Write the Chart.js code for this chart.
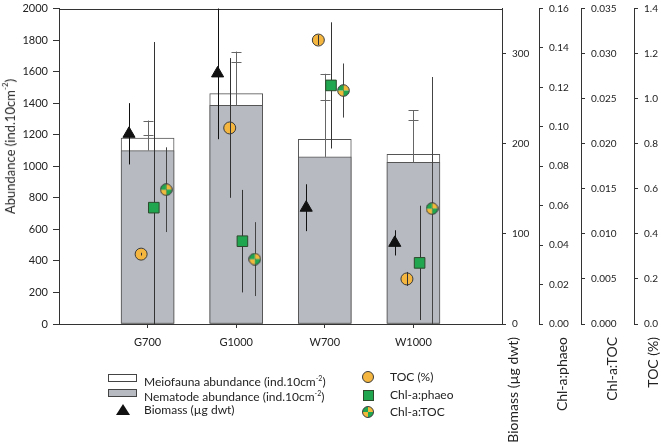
<!DOCTYPE html>
<html>
<head>
<meta charset="utf-8">
<script src="https://cdn.jsdelivr.net/npm/chart.js@4.4.1/dist/chart.umd.min.js"></script>
<style>
html,body{margin:0;padding:0;background:#fff;}
#wrap{position:relative;width:661px;height:445px;font-family:Lato,sans-serif;color:#222;overflow:hidden;}
#c{position:absolute;left:0;top:0;}
.lg{position:absolute;font-size:12px;line-height:14px;white-space:nowrap;}
.ic{position:absolute;box-sizing:border-box;}
.vt{position:absolute;font-size:14px;line-height:16px;writing-mode:vertical-rl;transform:rotate(180deg);white-space:nowrap;}
</style>
</head>
<body>
<div id="wrap">
<canvas id="c" width="661" height="445"></canvas>

<div class="vt" style="left:-2px;top:79px;font-size:13px;line-height:15px;">Abundance (ind.10cm<sup style="font-size:8px;vertical-align:5px;">-2</sup>)</div>

<div class="ic" style="left:108px;top:374px;width:29px;height:8px;border:1px solid #444;background:#fff;"></div>
<div class="lg" style="left:144px;top:371px;">Meiofauna abundance (ind.10cm<sup style="font-size:7px;vertical-align:5px;">-2</sup>)</div>
<div class="ic" style="left:108px;top:389px;width:29px;height:8px;border:1px solid #444;background:#b7bbc1;"></div>
<div class="lg" style="left:144px;top:386px;">Nematode abundance (ind.10cm<sup style="font-size:7px;vertical-align:5px;">-2</sup>)</div>
<div class="ic" style="left:116px;top:404px;width:0;height:0;border-left:7px solid transparent;border-right:7px solid transparent;border-bottom:11px solid #111;"></div>
<div class="lg" style="left:144px;top:403px;">Biomass (µg dwt)</div>

<div class="ic" style="left:362px;top:371px;width:12px;height:12px;border-radius:50%;border:1px solid #3a3a3a;background:#F4B63F;"></div>
<div class="lg" style="left:390px;top:370px;">TOC (%)</div>
<div class="ic" style="left:363px;top:390px;width:11px;height:11px;border:1px solid #2d4a2d;background:#1FA64E;"></div>
<div class="lg" style="left:390px;top:388px;">Chl-a:phaeo</div>
<div class="ic" style="left:362px;top:406px;width:12px;height:12px;border-radius:50%;border:1px solid #3a3a3a;background:conic-gradient(#F2BA3B 0deg 90deg,#1FA64E 90deg 180deg,#F2BA3B 180deg 270deg,#1FA64E 270deg 360deg);"></div>
<div class="lg" style="left:390px;top:405px;">Chl-a:TOC</div>

<div class="vt" style="left:505px;top:337px;">Biomass (µg dwt)</div>
<div class="vt" style="left:554px;top:337px;">Chl-a:phaeo</div>
<div class="vt" style="left:604px;top:337px;">Chl-a:TOC</div>
<div class="vt" style="left:645px;top:337px;">TOC (%)</div>
</div>

<script>
// ---- data ----
const categories = ['G700', 'G1000', 'W700', 'W1000'];
const meiofaunaAbundance = [1178, 1460, 1170, 1076];
const meiofaunaErr = [112, 267, 416, 279];
const nematodeAbundance = [1099, 1386, 1059, 1025];
const nematodeErr = [101, 272, 359, 267];
const biomass = [211, 278, 129, 90];
const biomassErr = [34, 73, 26, 14];
const toc = [0.31, 0.87, 1.26, 0.20];
const tocErr = [0.006, 0.31, 0.022, 0.031];
const chlPhaeo = [0.059, 0.042, 0.121, 0.031];
const chlPhaeoErr = [0.084, 0.026, 0.032, 0.029];
const chlToc = [0.0149, 0.0072, 0.0259, 0.0128];
const chlTocErr = [0.0047, 0.0041, 0.0030, 0.0146];

// axis ranges
const abundanceRange = [0, 2000, 200];
const biomassRange = [0, 350, 100];
const phaeoRange = [0, 0.16, 0.02];
const chlTocRange = [0, 0.035, 0.005];
const tocRange = [0, 1.4, 0.2];

// ---- styling / build ----
Chart.defaults.font.family = 'Lato, sans-serif';
Chart.defaults.color = '#222';
const AX = '#333';

function pts(vals, off) { return vals.map((v, i) => ({ x: i + 1 + off, y: v })); }

function quarterMarker(d) {
  const c = document.createElement('canvas'); c.width = c.height = d;
  const g = c.getContext('2d'); const cx = d / 2, cy = d / 2, r = d / 2 - 0.7;
  const cols = ['#F2BA3B', '#1FA64E', '#F2BA3B', '#1FA64E'];
  for (let k = 0; k < 4; k++) {
    g.beginPath(); g.moveTo(cx, cy);
    g.arc(cx, cy, r, -Math.PI / 2 + k * Math.PI / 2, k * Math.PI / 2);
    g.closePath(); g.fillStyle = cols[k]; g.fill();
  }
  g.beginPath(); g.arc(cx, cy, r, 0, Math.PI * 2); g.strokeStyle = '#333'; g.lineWidth = 1; g.stroke();
  return c;
}

function fitV(w) {
  return s => { s.width = w; s.paddingTop = 0; s.paddingBottom = 0; };
}

function rightAxis(range, w, fmt, weight) {
  return {
    type: 'linear', position: 'right', min: range[0], max: range[1], weight: weight,
    border: { color: AX, width: 1 },
    grid: { drawOnChartArea: false, tickLength: 4, color: AX },
    ticks: { stepSize: range[2], includeBounds: false, padding: 6, font: { size: 10 }, callback: fmt },
    afterFit: fitV(w)
  };
}

function drawErrors(chart, dsIndex) {
  const ds = chart.data.datasets[dsIndex];
  if (!ds.errVals) return;
  const ctx = chart.ctx, a = chart.chartArea;
  const xs = chart.scales.x, ys = chart.scales[ds.yAxisID];
  ctx.save();
  ctx.beginPath(); ctx.rect(a.left, a.top, a.right - a.left, a.bottom - a.top); ctx.clip();
  ctx.strokeStyle = ds.errColor; ctx.lineWidth = 1;
  ds.data.forEach((p, i) => {
    const e = ds.errVals[i];
    const x = Math.round(xs.getPixelForValue(p.x)) + 0.5;
    const yt = ys.getPixelForValue(p.y + e);
    const yb = ds.errOneSided ? ys.getPixelForValue(p.y) : ys.getPixelForValue(p.y - e);
    ctx.beginPath(); ctx.moveTo(x, yb); ctx.lineTo(x, yt); ctx.stroke();
    if (ds.errCap) {
      const yc = Math.round(yt) + 0.5;
      ctx.beginPath(); ctx.moveTo(x - ds.errCap, yc); ctx.lineTo(x + ds.errCap, yc); ctx.stroke();
    }
  });
  ctx.restore();
}

const errorPlugin = {
  id: 'errorBars',
  afterDatasetDraw(chart, args) {
    const ds = chart.data.datasets[args.index];
    if (ds.errAnchor) {
      chart.data.datasets.forEach((d, i) => { if (d.errVals && !d.errOnTop) drawErrors(chart, i); });
    }
    if (ds.errOnTop) drawErrors(chart, args.index);
  },
  beforeDatasetsDraw(chart) {
    const ctx = chart.ctx, a = chart.chartArea;
    ctx.save(); ctx.strokeStyle = AX; ctx.lineWidth = 1;
    const y = Math.round(a.top) + 0.5;
    ctx.beginPath(); ctx.moveTo(a.left, y); ctx.lineTo(a.right, y); ctx.stroke();
    ctx.restore();
  }
};

new Chart(document.getElementById('c'), {
  type: 'bar',
  data: {
    datasets: [
      { type: 'scatter', label: 'Biomass (µg dwt)', data: pts(biomass, -0.21), yAxisID: 'yB',
        pointStyle: 'triangle', pointRadius: 7, backgroundColor: '#111', borderColor: '#111', borderWidth: 1,
        order: 4, errVals: biomassErr, errColor: '#111' },
      { type: 'scatter', label: 'TOC (%)', data: pts(toc, -0.073), yAxisID: 'yC',
        pointStyle: 'circle', pointRadius: 6, backgroundColor: '#F4B63F', borderColor: '#3a3a3a', borderWidth: 1,
        order: 3, errVals: tocErr, errColor: '#333', errOnTop: true },
      { type: 'scatter', label: 'Chl-a:phaeo', data: pts(chlPhaeo, 0.07), yAxisID: 'yP',
        pointStyle: 'rect', pointRadius: 7.5, backgroundColor: '#1FA64E', borderColor: '#2d4a2d', borderWidth: 1,
        order: 2, errVals: chlPhaeoErr, errColor: '#333' },
      { type: 'scatter', label: 'Chl-a:TOC', data: pts(chlToc, 0.21), yAxisID: 'yT',
        pointStyle: quarterMarker(13), pointRadius: 6.5,
        order: 1, errVals: chlTocErr, errColor: '#444' },
      { type: 'bar', label: 'Nematode abundance', data: pts(nematodeAbundance, 0), yAxisID: 'y',
        backgroundColor: '#b7bbc1', borderColor: '#555', borderWidth: 1, borderSkipped: false,
        barThickness: 53, grouped: false, order: 5,
        errAnchor: true, errVals: nematodeErr, errColor: '#666', errOneSided: true, errCap: 5 },
      { type: 'bar', label: 'Meiofauna abundance', data: pts(meiofaunaAbundance, 0), yAxisID: 'y',
        backgroundColor: '#ffffff', borderColor: '#555', borderWidth: 1, borderSkipped: false,
        barThickness: 53, grouped: false, order: 6,
        errVals: meiofaunaErr, errColor: '#666', errOneSided: true, errCap: 5 }
    ]
  },
  options: {
    responsive: false, animation: false,
    layout: { padding: { top: 7, left: 0, right: 0, bottom: 0 } },
    plugins: { legend: { display: false }, tooltip: { enabled: false } },
    scales: {
      x: {
        type: 'linear', position: 'bottom', min: 0, max: categories.length + 1, offset: false,
        border: { color: AX, width: 1 },
        grid: { drawOnChartArea: false, offset: false, tickLength: 4, color: AX },
        afterBuildTicks: s => { s.ticks = categories.map((c, i) => ({ value: i + 1 })); },
        ticks: { padding: 8, font: { size: 11 }, maxRotation: 0, autoSkip: false,
                 callback: v => categories[Math.round(v) - 1] || '' },
        afterFit: s => { s.height = 121; s.paddingLeft = 0; s.paddingRight = 0; }
      },
      y: {
        type: 'linear', position: 'left', min: abundanceRange[0], max: abundanceRange[1],
        border: { color: AX, width: 1 },
        grid: { drawOnChartArea: false, tickLength: 6, color: AX },
        ticks: { stepSize: abundanceRange[2], padding: 5, font: { size: 11 }, callback: v => String(v) },
        title: { display: false },
        afterFit: fitV(59)
      },
      yB: rightAxis(biomassRange, 37, v => String(v), 1),
      yP: rightAxis(phaeoRange, 42, v => v.toFixed(2), 2),
      yT: rightAxis(chlTocRange, 53, v => v.toFixed(3), 3),
      yC: rightAxis(tocRange, 27, v => v.toFixed(1), 4)
    }
  },
  plugins: [errorPlugin]
});
</script>
</body>
</html>
